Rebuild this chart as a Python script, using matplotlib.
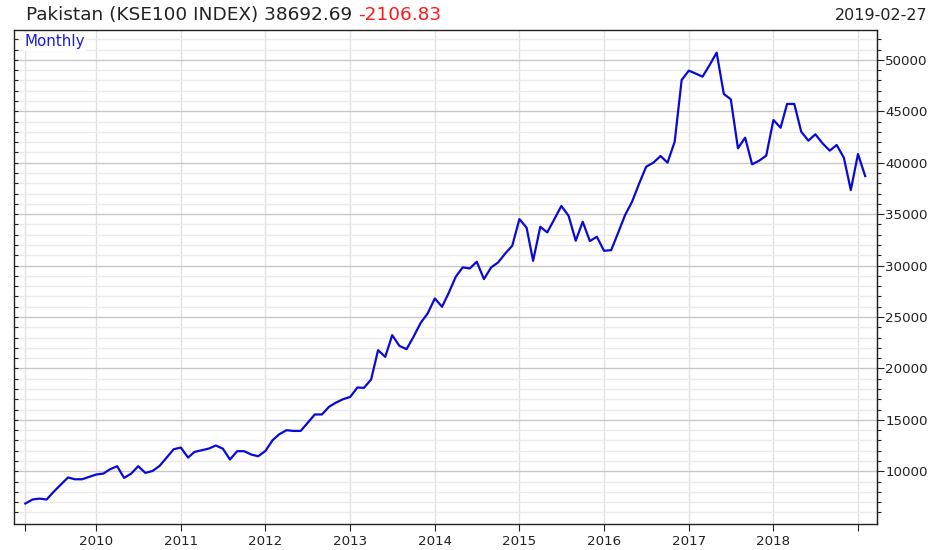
import pandas as pd
import matplotlib
matplotlib.use('Agg')
import matplotlib.pyplot as plt
import matplotlib.dates as mdates
from matplotlib.ticker import FixedLocator

# monthly closes of the KSE100 (2009-03 .. 2019-02)
startMonth = '2009-03-01'
closes = [
    6860, 7250, 7340, 7250, 8000, 8700, 9390, 9220, 9220, 9450,
    9680, 9775, 10190, 10490, 9350, 9775, 10490, 9835, 10030, 10515,
    11330, 12140, 12300, 11330, 11880, 12040, 12200, 12500, 12200, 11140,
    11950, 11950, 11620, 11460, 11975, 13020, 13600, 13990, 13920, 13920,
    14700, 15520, 15520, 16260, 16680, 17005, 17230, 18145, 18105, 18920,
    21770, 21120, 23230, 22190, 21870, 23070, 24430, 25340, 26800, 25990,
    27290, 28900, 29820, 29720, 30370, 28680, 29820, 30300, 31180, 31920,
    34520, 33670, 30460, 33770, 33220, 34520, 35790, 34840, 32410, 34260,
    32380, 32800, 31430, 31500, 33130, 34910, 36200, 37990, 39610, 40000,
    40650, 40000, 42040, 48040, 48950, 48650, 48360, 49500, 50700, 46680,
    46170, 41400, 42430, 39840, 40200, 40680, 44150, 43400, 45710, 45710,
    43010, 42140, 42760, 41880, 41170, 41720, 40480, 37340, 40840, 38692.69,
]
titleText = 'Pakistan (KSE100 INDEX) 38692.69'
changeText = '-2106.83'
dateText = '2019-02-27'
periodText = 'Monthly'
yearTicks = ['2009-03-01'] + [f'{y}-01-01' for y in range(2010, 2020)]
yearLabels = [''] + [str(y) for y in range(2010, 2019)] + ['']
priceTicks = list(range(10000, 50001, 5000))
priceMinor = [v for v in range(6000, 53000, 1000) if v % 5000 != 0]

dates = pd.date_range(startMonth, periods=len(closes), freq='MS')

fig = plt.figure(figsize=(9.39, 5.5), dpi=100)
ax = fig.add_axes([14 / 939, 26 / 550, 863 / 939, 494 / 550])

ax.plot(dates, closes, color='#0a0ad6', linewidth=1.6, zorder=3)

ax.set_xlim(pd.Timestamp('2009-01-11'), pd.Timestamp('2019-03-24'))
ax.set_ylim(4870, 52900)

# x axis: one tick per year plus the first month
ax.xaxis.set_major_locator(FixedLocator(mdates.date2num(pd.to_datetime(yearTicks))))
ax.set_xticklabels(yearLabels)
ax.tick_params(axis='x', which='major', direction='out', length=5, width=0.8,
               labelsize=9.6, pad=3, colors='#222222')

# left spine: small inward ticks, no labels
ax.yaxis.set_major_locator(FixedLocator(priceTicks))
ax.yaxis.set_minor_locator(FixedLocator(priceMinor))
ax.tick_params(axis='y', which='both', direction='in', length=3, width=0.8,
               left=True, right=False, labelleft=False, colors='#222222')

# right side: outward ticks with the price labels
rax = ax.secondary_yaxis('right')
rax.yaxis.set_major_locator(FixedLocator(priceTicks))
rax.yaxis.set_minor_locator(FixedLocator(priceMinor))
rax.tick_params(axis='y', which='major', direction='out', length=5, width=0.8,
                labelsize=9.6, pad=1, colors='#222222')
rax.tick_params(axis='y', which='minor', direction='out', length=3, width=0.8,
                colors='#222222')
rax.spines['right'].set_color('#222222')

ax.grid(True, axis='y', which='major', color='#c8c8c8', linewidth=1.0, zorder=0)
ax.grid(True, axis='y', which='minor', color='#ebebeb', linewidth=1.0, zorder=0)
ax.grid(True, axis='x', which='major', color='#e2e2e2', linewidth=1.0, zorder=0)

for side in ['left', 'right', 'top', 'bottom']:
    ax.spines[side].set_color('#222222')
    ax.spines[side].set_linewidth(1.0)

ax.text(0.0116, 0.976, periodText, transform=ax.transAxes, color='#1a1ae0',
        fontsize=10.8, ha='left', va='center', zorder=4,
        bbox=dict(facecolor='white', edgecolor='none', pad=1.0))

title = fig.text(26 / 939, 1 - 15 / 550, titleText, fontsize=13.3,
                 color='#222222', ha='left', va='center')
fig.canvas.draw()
ax.annotate(changeText, xy=(1, 0), xycoords=title, xytext=(4, 0),
            textcoords='offset points', fontsize=13.3, color='#ff1a1a',
            ha='left', va='bottom', annotation_clip=False)
fig.text(927 / 939, 1 - 15 / 550, dateText, fontsize=11.5, color='#222222',
         ha='right', va='center')

fig.savefig('out.png', dpi=100)
